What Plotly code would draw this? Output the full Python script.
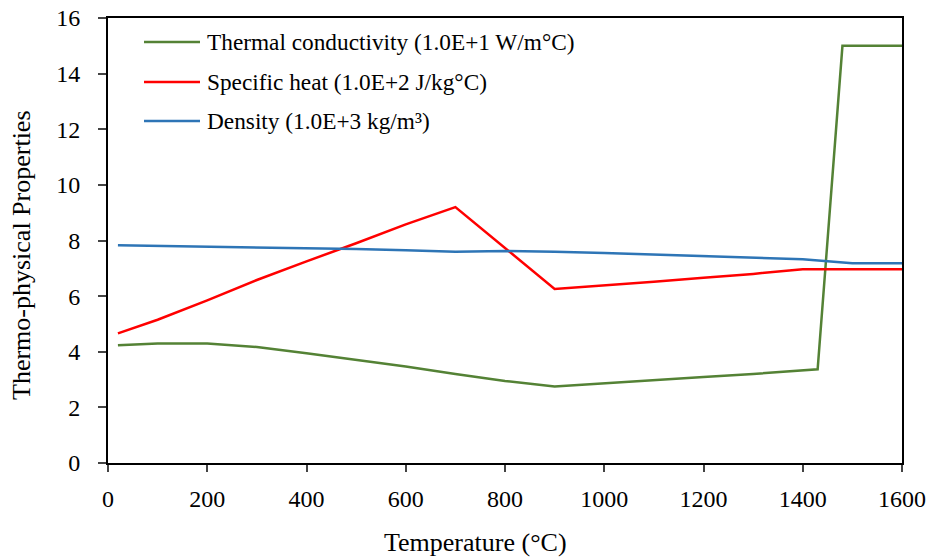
import plotly.graph_objects as go

# ---- data ----
temp_k = [20, 100, 200, 300, 400, 500, 600, 700, 800, 900, 1000, 1100, 1200, 1300, 1430, 1480, 1600]
cond = [4.23, 4.30, 4.30, 4.17, 3.95, 3.72, 3.47, 3.20, 2.95, 2.75, 2.87, 2.98, 3.09, 3.20, 3.37, 15.0, 15.0]

temp_c = [20, 100, 200, 300, 400, 500, 600, 700, 900, 1000, 1100, 1200, 1300, 1400, 1600]
spec = [4.66, 5.15, 5.85, 6.58, 7.25, 7.90, 8.58, 9.20, 6.26, 6.38, 6.52, 6.66, 6.80, 6.97, 6.97]

temp_d = [20, 100, 200, 300, 400, 500, 600, 700, 800, 900, 1000, 1100, 1200, 1300, 1400, 1500, 1600]
dens = [7.83, 7.81, 7.79, 7.76, 7.73, 7.69, 7.65, 7.60, 7.62, 7.60, 7.55, 7.50, 7.44, 7.39, 7.33, 7.18, 7.18]

names = ["Thermal conductivity (1.0E+1 W/m°C)",
         "Specific heat (1.0E+2 J/kg°C)",
         "Density (1.0E+3 kg/m³)"]
colors = ["#548235", "#FF0000", "#2E75B6"]

x_ticks = [0, 200, 400, 600, 800, 1000, 1200, 1400, 1600]
y_ticks = [0, 2, 4, 6, 8, 10, 12, 14, 16]

FONT = "Liberation Serif, Times New Roman, serif"

fig = go.Figure()
for xs, ys, nm, col in [(temp_k, cond, names[0], colors[0]),
                        (temp_c, spec, names[1], colors[1]),
                        (temp_d, dens, names[2], colors[2])]:
    fig.add_trace(go.Scatter(x=xs, y=ys, name=nm, mode="lines",
                             line=dict(color=col, width=2.5), showlegend=False))

# manual legend (paper coords)
L, R, T, B = 108, 26, 18, 95
W, H = 928 - L - R, 558 - T - B
def px(x): return (x - L) / W
def py(y): return (558 - B - y) / H
rows = [42, 82, 121]
for nm, col, yy in zip(names, colors, rows):
    fig.add_shape(type="line", xref="paper", yref="paper",
                  x0=px(144), x1=px(200), y0=py(yy), y1=py(yy),
                  line=dict(color=col, width=2.5))
    fig.add_annotation(xref="paper", yref="paper", x=px(205), y=py(yy),
                       text=nm, showarrow=False, xanchor="left", yanchor="middle",
                       font=dict(family=FONT, size=23.3, color="black"))

fig.add_annotation(xref="paper", yref="paper", x=px(475), y=py(542), text="Temperature (°C)",
                   showarrow=False, xanchor="center", yanchor="middle",
                   font=dict(family=FONT, size=26, color="black"))
fig.add_annotation(xref="paper", yref="paper", x=px(22), y=py(255), text="Thermo-physical Properties",
                   showarrow=False, xanchor="center", yanchor="middle", textangle=-90,
                   font=dict(family=FONT, size=26, color="black"))

fig.update_xaxes(range=[0, 1600], tickvals=x_ticks, ticks="outside", ticklen=7, tickwidth=2,
                 showline=True, linecolor="black", linewidth=2, mirror=True, automargin=False,
                 showgrid=False, zeroline=False, ticklabelstandoff=6,
                 tickfont=dict(family=FONT, size=24, color="black"))
fig.update_yaxes(range=[0, 16], tickvals=y_ticks, ticks="outside", ticklen=8, tickwidth=2,
                 showline=True, linecolor="black", linewidth=2, mirror=True, automargin=False,
                 showgrid=False, zeroline=False, ticklabelstandoff=13,
                 tickfont=dict(family=FONT, size=24, color="black"))

fig.update_layout(width=928, height=558, margin=dict(l=L, r=R, t=T, b=B),
                  paper_bgcolor="white", plot_bgcolor="white", showlegend=False)

fig.write_html("out.html")
